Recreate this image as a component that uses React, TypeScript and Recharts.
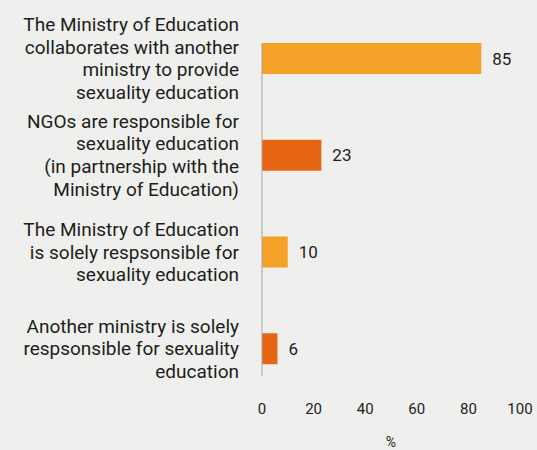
import React from 'react';
import { BarChart, Bar, XAxis, YAxis, Cell, LabelList } from 'recharts';

const categories = [
  'The Ministry of Education\ncollaborates with another\nministry to provide\nsexuality education',
  'NGOs are responsible for\nsexuality education\n(in partnership with the\nMinistry of Education)',
  'The Ministry of Education\nis solely respsonsible for\nsexuality education',
  'Another ministry is solely\nrespsonsible for sexuality\neducation',
];
const values = [85, 23, 10, 6];
const barColors = ['#f5a127', '#e56515', '#f5a127', '#e56515'];
const xTicks = [0, 20, 40, 60, 80, 100];

const data = categories.map((name, i) => ({ name, value: values[i] }));

const FONT = 'Roboto, sans-serif';
const TEXT = '#1d1d1b';

const CategoryTick = (props: any) => {
  const { x, y, payload } = props;
  const lines: string[] = String(payload.value).split('\n');
  const lh = 22.6;
  const start = -((lines.length - 1) * lh) / 2;
  return (
    <text x={x - 15} y={y} textAnchor="end" fill={TEXT} fontSize={19} fontFamily={FONT}>
      {lines.map((l, i) => (
        <tspan key={i} x={x - 15} y={y + start + i * lh} dy="0.35em">
          {l}
        </tspan>
      ))}
    </text>
  );
};

export default function App() {
  return (
    <div style={{ width: 537, height: 450, background: '#eff0ed', position: 'absolute', left: 0, top: 0 }}>
      <style>{'body{margin:0}'}</style>
      <BarChart
        width={537}
        height={450}
        data={data}
        layout="vertical"
        margin={{ top: 43, right: 17, bottom: 44, left: 0 }}
      >
        <XAxis
          type="number"
          domain={[0, 100]}
          ticks={xTicks}
          axisLine={false}
          tickLine={false}
          tickMargin={21}
          tick={{ fill: TEXT, fontSize: 15, fontFamily: FONT }}
          label={{ value: '%', position: 'insideBottom', offset: -41, fill: TEXT, fontSize: 14, fontFamily: FONT }}
        />
        <YAxis
          type="category"
          dataKey="name"
          width={262}
          padding={{ top: -33, bottom: -21 }}
          axisLine={{ stroke: '#a6a6a6', strokeWidth: 1 }}
          tickLine={false}
          tick={<CategoryTick />}
          interval={0}
        />
        <Bar dataKey="value" barSize={31} isAnimationActive={false}>
          {data.map((d, i) => (
            <Cell key={i} fill={barColors[i]} />
          ))}
          <LabelList dataKey="value" position="right" offset={11} fill={TEXT} fontSize={17} fontFamily={FONT} />
        </Bar>
      </BarChart>
    </div>
  );
}
